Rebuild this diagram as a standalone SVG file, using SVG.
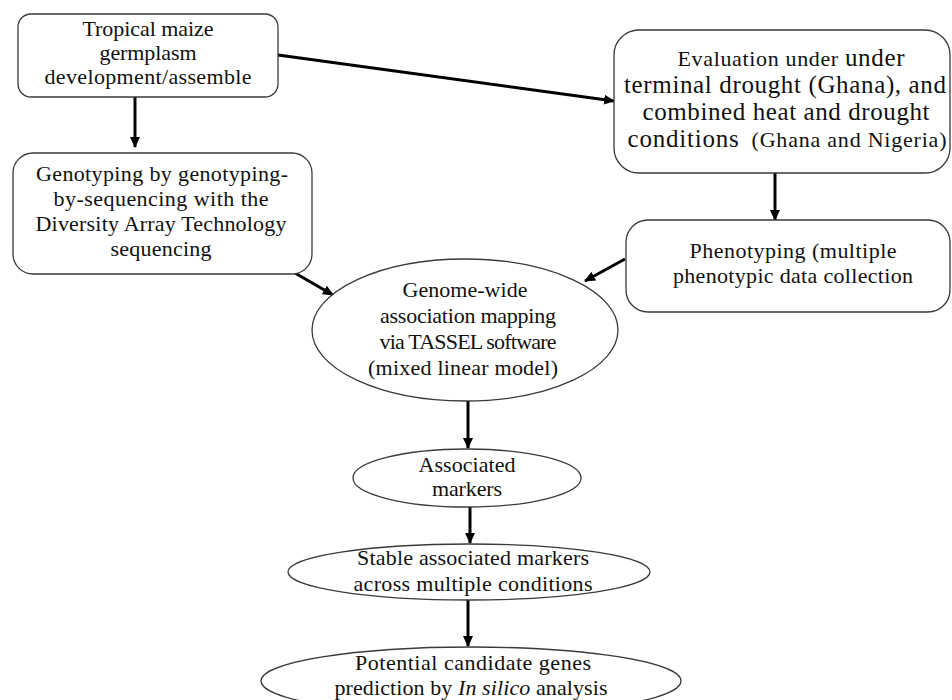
<svg xmlns="http://www.w3.org/2000/svg" width="952" height="700" viewBox="0 0 952 700">
<style>
.box{fill:#ffffff;stroke:#3a3a3a;stroke-width:1.3}
.t{font-family:"Liberation Serif","Times New Roman",serif;font-size:22px;fill:#111;text-anchor:middle}
.tl{font-family:"Liberation Serif","Times New Roman",serif;font-size:25px;fill:#111;text-anchor:middle}
.c{stroke:#000;stroke-width:3;fill:none;marker-end:url(#ah)}
</style>
<defs>
<marker id="ah" markerUnits="userSpaceOnUse" markerWidth="11" markerHeight="10" refX="10" refY="5" orient="auto" viewBox="0 0 11 10">
<path d="M0,0 L11,5 L0,10 z" fill="#000"/>
</marker>
</defs>
<rect width="952" height="700" fill="#ffffff"/>
<g id="connectors">
<line class="c" x1="135" y1="97" x2="135" y2="147"/>
<line class="c" x1="278" y1="55" x2="614" y2="101"/>
<line class="c" x1="775" y1="173" x2="775" y2="220"/>
<line class="c" x1="295" y1="273" x2="333" y2="295"/>
<line class="c" x1="625" y1="259" x2="585" y2="281"/>
<line class="c" x1="468" y1="401" x2="468" y2="448"/>
<line class="c" x1="470" y1="507" x2="470" y2="543"/>
<line class="c" x1="468" y1="600" x2="468" y2="646"/>
</g>
<g id="n1">
<rect class="box" x="18" y="14" width="260" height="83" rx="13"/>
<text class="t" x="148" y="36" textLength="131">Tropical maize</text>
<text class="t" x="148" y="60" textLength="97">germplasm</text>
<text class="t" x="148" y="84" textLength="207">development/assemble</text>
</g>
<g id="n2">
<rect class="box" x="13" y="153" width="299" height="121" rx="20"/>
<text class="t" x="162" y="181" textLength="252">Genotyping by genotyping-</text>
<text class="t" x="161" y="206" textLength="215">by-sequencing with the</text>
<text class="t" x="161" y="231" textLength="251">Diversity Array Technology</text>
<text class="t" x="161" y="256" textLength="101">sequencing</text>
</g>
<g id="n3">
<rect class="box" x="614" y="30" width="336" height="143" rx="25"/>
<text class="t" x="791" y="66" textLength="227">Evaluation under <tspan font-size="25">under</tspan></text>
<text class="tl" x="785" y="93" textLength="322">terminal drought (Ghana), and</text>
<text class="tl" x="786" y="120" textLength="287">combined heat and drought</text>
<text class="tl" x="787" y="147" textLength="319">conditions <tspan font-size="22" dx="5">(Ghana and Nigeria)</tspan></text>
</g>
<g id="n4">
<rect class="box" x="626" y="220" width="324" height="92" rx="22"/>
<text class="t" x="793" y="258" textLength="207">Phenotyping (multiple</text>
<text class="t" x="793" y="283" textLength="240">phenotypic data collection</text>
</g>
<g id="n5">
<ellipse class="box" cx="465" cy="330" rx="153" ry="71"/>
<text class="t" x="465" y="297" textLength="125">Genome-wide</text>
<text class="t" x="468" y="323" textLength="176">association mapping</text>
<text class="t" x="468" y="349" textLength="177">via TASSEL software</text>
<text class="t" x="463" y="375" textLength="190">(mixed linear model)</text>
</g>
<g id="n6">
<ellipse class="box" cx="467" cy="478" rx="114" ry="29"/>
<text class="t" x="467" y="472" textLength="97">Associated</text>
<text class="t" x="467" y="496" textLength="70">markers</text>
</g>
<g id="n7">
<ellipse class="box" cx="469" cy="572" rx="181" ry="28"/>
<text class="t" x="473" y="565" textLength="232">Stable associated markers</text>
<text class="t" x="473" y="591" textLength="239">across multiple conditions</text>
</g>
<g id="n8">
<ellipse class="box" cx="471" cy="681" rx="210" ry="34"/>
<text class="t" x="473" y="670" textLength="236">Potential candidate genes</text>
<text class="t" x="471" y="695" textLength="273">prediction by <tspan font-style="italic">In silico</tspan> analysis</text>
</g>
</svg>
